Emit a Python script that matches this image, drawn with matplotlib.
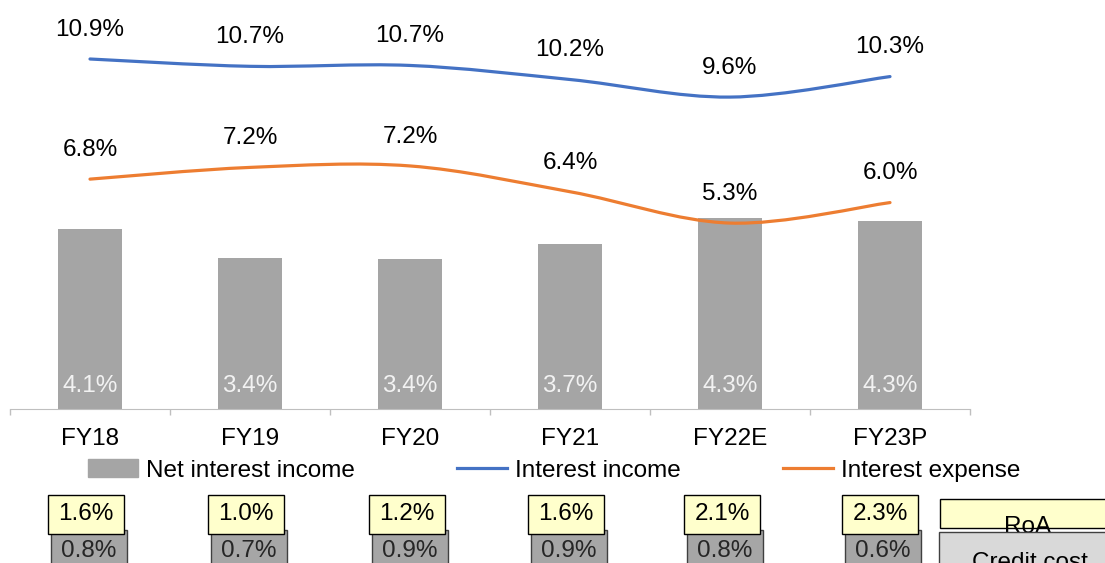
import numpy as np
import matplotlib
matplotlib.use("Agg")
from matplotlib import pyplot as plt
from matplotlib.path import Path
from matplotlib.patches import PathPatch, Rectangle
from matplotlib.lines import Line2D
import matplotlib.transforms as mtransforms

years = ["FY18", "FY19", "FY20", "FY21", "FY22E", "FY23P"]
net_interest = [4.09, 3.44, 3.42, 3.74, 4.34, 4.27]
interest_income = [10.9, 10.65, 10.68, 10.2, 9.6, 10.3]
interest_expense = [6.8, 7.2, 7.25, 6.37, 5.3, 6.0]
roa = [1.6, 1.0, 1.2, 1.6, 2.1, 2.3]
credit_cost = [0.8, 0.7, 0.9, 0.9, 0.8, 0.6]

plt.rcParams['font.family'] = ['Liberation Sans', 'DejaVu Sans']
FS = 17.5
W, H = 1105, 563

BAR_C = '#A5A5A5'
BLUE = '#4472C4'
ORANGE = '#ED7D31'


def smooth_path(xs, ys):
    # excel-ish smoothed line: catmull-rom through the points as bezier segments
    pts = np.column_stack([xs, ys]).astype(float)
    n = len(pts)
    verts = [pts[0]]
    codes = [Path.MOVETO]
    for i in range(n - 1):
        p0 = pts[max(i - 1, 0)]
        p1 = pts[i]
        p2 = pts[i + 1]
        p3 = pts[min(i + 2, n - 1)]
        verts += [p1 + (p2 - p0) / 6, p2 - (p3 - p1) / 6, p2]
        codes += [Path.CURVE4] * 3
    return Path(verts, codes)


fig = plt.figure(figsize=(W / 100, H / 100), dpi=100)
ax = fig.add_axes([10 / W, 154 / H, 960 / W, 409 / H])
ax2 = ax.twinx()

x = np.arange(len(years))

ax.bar(x, net_interest, width=0.4, color=BAR_C, zorder=2)
for i, v in enumerate(net_interest):
    ax.annotate(f"{v:.1f}%", (i, 0), xytext=(0, 16.5), textcoords='offset points',
                ha='center', va='center', fontsize=FS, color='#F2F2F2', zorder=3)

ax.set_xlim(-0.5, len(years) - 0.5)
ax.set_ylim(0, 409 / 44)
ax.set_xticks(np.arange(-0.5, len(years), 1))
ax.set_xticklabels([])
ax.set_xticks(x, minor=True)
ax.set_xticklabels(years, minor=True)
ax.tick_params(axis='x', which='major', length=4.3, color='#BFBFBF', width=1)
ax.tick_params(axis='x', which='minor', length=0, pad=13.5, labelsize=FS)
ax.set_yticks([])
for s in ['top', 'left', 'right']:
    ax.spines[s].set_visible(False)
ax.spines['bottom'].set_color('#BFBFBF')

# lines on the secondary scale
ax2.set_ylim(10.9 - 350 / 29.3, 10.9 + 59 / 29.3)
for vals, col in [(interest_income, BLUE), (interest_expense, ORANGE)]:
    ax2.add_patch(PathPatch(smooth_path(x, vals), fill=False, edgecolor=col,
                            lw=2.3, capstyle='round', zorder=3))
    for i, v in enumerate(vals):
        ax2.annotate(f"{v:.1f}%", (i, v), xytext=(0, 21), textcoords='offset points',
                     ha='center', va='center', fontsize=FS)
ax2.set_yticks([])
for s in ax2.spines.values():
    s.set_visible(False)

handles = [Rectangle((0, 0), 1, 1, color=BAR_C),
           Line2D([], [], color=BLUE, lw=2.3),
           Line2D([], [], color=ORANGE, lw=2.3)]
fig.legend(handles, ["Net interest income", "Interest income", "Interest expense"],
           loc='center', bbox_to_anchor=(554 / W, 1 - 470.5 / H), ncol=3, frameon=False,
           fontsize=FS, handlelength=2.06, handletextpad=0.33, columnspacing=4.2,
           borderaxespad=0, borderpad=0)

# RoA / credit cost boxes under each year
trans = mtransforms.blended_transform_factory(ax.transData, fig.transFigure)
shift = [-4, -4, -3, -4, -8, -10]
bw = 76 / 160
for i in range(len(years)):
    cx = i + shift[i] / 160
    fig.add_artist(Rectangle((cx - bw / 2 + 3 / 160, -0.05), bw, 33 / H + 0.05,
                             transform=trans, facecolor='#A6A6A6', edgecolor='#404040',
                             lw=1, zorder=2))
    fig.text(cx + 3 / 160, 12 / H, f"{credit_cost[i]:.1f}%", transform=trans,
             ha='center', va='center', fontsize=FS, color='#262626', zorder=2.5)
    fig.add_artist(Rectangle((cx - bw / 2, 29 / H), bw, 39 / H, transform=trans,
                             facecolor='#FFFFCC', edgecolor='black', lw=1, zorder=3))
    fig.text(cx, 48.5 / H, f"{roa[i]:.1f}%", transform=trans,
             ha='center', va='center', fontsize=FS, color='black', zorder=4)

# side legend boxes
fig.add_artist(Rectangle((940 / W, 35 / H), 190 / W, 29 / H, transform=fig.transFigure,
                         facecolor='#FFFFCC', edgecolor='black', lw=1, zorder=3))
fig.text(1028 / W, 30 / H, "RoA", ha='center', va='baseline', fontsize=FS, zorder=3.5)
fig.add_artist(Rectangle((939 / W, -0.05), 190 / W, 31 / H + 0.05, transform=fig.transFigure,
                         facecolor='#D9D9D9', edgecolor='#404040', lw=1, zorder=4))
fig.text(1030 / W, -6 / H, "Credit cost", ha='center', va='baseline', fontsize=FS, zorder=5)

fig.savefig("out.png", dpi=100)
